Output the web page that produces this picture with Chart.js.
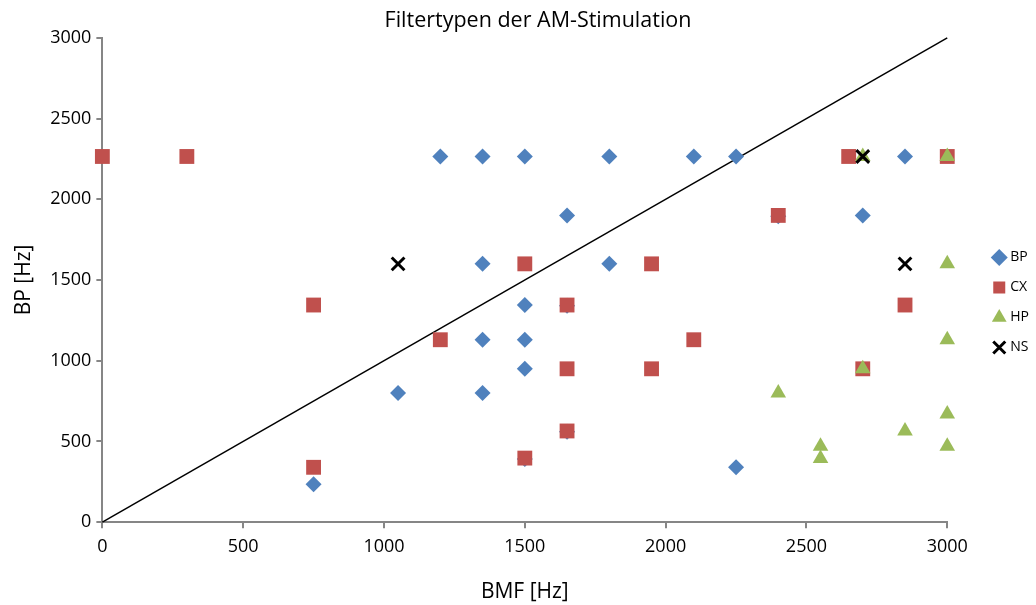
<!DOCTYPE html>
<html>
<head>
<meta charset="utf-8">
<script src="https://cdn.jsdelivr.net/npm/chart.js@4"></script>
<style>
  html, body { margin: 0; padding: 0; background: #ffffff; }
  #wrap { width: 1036px; height: 605px; }
</style>
</head>
<body>
<div id="wrap"><canvas id="c" width="1036" height="605"></canvas></div>
<script>
// ---- data ----
const chartTitle = 'Filtertypen der AM-Stimulation';
const xAxisTitle = 'BMF [Hz]';
const yAxisTitle = 'BP [Hz]';
const seriesNames = ['BP', 'CX', 'HP', 'NS'];

const bpBMF = [1200, 1350, 1500, 1800, 2100, 2250, 2850, 1650, 2700, 1350, 1800, 1500, 1350, 1500, 1500, 1050, 1350, 2250, 750, 1650, 1650, 1500, 2400];
const bpBP  = [2265, 2265, 2265, 2265, 2265, 2265, 2265, 1900, 1900, 1600, 1600, 1345, 1130, 1130, 950, 800, 800, 340, 235, 1340, 560, 392, 1895];

const cxBMF = [0, 300, 2650, 3000, 2400, 1500, 1950, 750, 1650, 2850, 1200, 2100, 1650, 1950, 2700, 1650, 1500, 750];
const cxBP  = [2265, 2265, 2265, 2265, 1900, 1600, 1600, 1345, 1345, 1345, 1130, 1130, 950, 950, 950, 565, 397, 340];

const hpBMF = [2700, 3000, 3000, 3000, 2700, 2400, 3000, 2850, 2550, 3000, 2550];
const hpBP  = [2265, 2265, 1600, 1130, 950, 800, 670, 565, 470, 470, 395];

const nsBMF = [2700, 1050, 2850];
const nsBP  = [2265, 1600, 1600];

const diagBMF = [0, 3000];
const diagBP  = [0, 3000];

const xTicks = [0, 500, 1000, 1500, 2000, 2500, 3000];
const yTicks = [0, 500, 1000, 1500, 2000, 2500, 3000];

// ---- build ----
const pts = (xs, ys) => xs.map((x, i) => ({ x: x, y: ys[i] }));
const FONT = "'Open Sans', 'Liberation Sans', sans-serif";
const axisGray = '#868686';
const LEGEND_RESERVE = 29;   // space kept free at the right for the legend
const LEGEND_SHIFT = 32;     // legend moved back to the right by this much
const LEGEND_SHIFT_Y = -1;
const TITLE_SHIFT = 29;

const boxShift = {
  id: 'boxShift',
  afterLayout(chart) {
    if (chart.legend) {
      chart.legend.left += LEGEND_SHIFT; chart.legend.right += LEGEND_SHIFT;
      chart.legend.top += LEGEND_SHIFT_Y; chart.legend.bottom += LEGEND_SHIFT_Y;
    }
    if (chart.titleBlock) { chart.titleBlock.left += TITLE_SHIFT; chart.titleBlock.right += TITLE_SHIFT; }
  }
};

const chart = new Chart(document.getElementById('c'), {
  type: 'scatter',
  data: {
    datasets: [
      { label: seriesNames[0], data: pts(bpBMF, bpBP), pointStyle: 'rectRot', pointRadius: 8, pointHoverRadius: 8,
        backgroundColor: '#4F81BD', borderColor: '#4F81BD', borderWidth: 0, order: 3, clip: false },
      { label: seriesNames[1], data: pts(cxBMF, cxBP), pointStyle: 'rect', pointRadius: 10.5, pointHoverRadius: 10.5,
        backgroundColor: '#C0504D', borderColor: '#C0504D', borderWidth: 0, order: 2, clip: false },
      { label: seriesNames[2], data: pts(hpBMF, hpBP), pointStyle: 'triangle', pointRadius: 9, pointHoverRadius: 9,
        backgroundColor: '#9BBB59', borderColor: '#9BBB59', borderWidth: 0, order: 1, clip: false },
      { label: seriesNames[3], data: pts(nsBMF, nsBP), pointStyle: 'crossRot', pointRadius: 9, pointHoverRadius: 9,
        backgroundColor: '#000000', borderColor: '#000000', borderWidth: 3, order: 0, clip: false },
      { label: 'diag', type: 'line', data: pts(diagBMF, diagBP), showLine: true, borderColor: '#000000',
        borderWidth: 1.5, pointRadius: 0, fill: false, order: 4, clip: false }
    ]
  },
  plugins: [boxShift],
  options: {
    responsive: false,
    animation: false,
    events: [],
    layout: { padding: { left: 11, right: LEGEND_RESERVE, top: 2, bottom: 0 } },
    plugins: {
      title: { display: true, text: chartTitle, color: '#000', font: { family: FONT, size: 21.5, weight: 'normal' },
               padding: { top: 6, bottom: 4 } },
      tooltip: { enabled: false },
      legend: {
        display: true, position: 'right', align: 'center',
        labels: {
          usePointStyle: true, boxWidth: 8, boxHeight: 12, padding: 16, color: '#000',
          font: { family: FONT, size: 14 },
          generateLabels: (ch) => ch.data.datasets.filter(ds => ds.label !== 'diag').map((ds, i) => ({
            text: ds.label, fillStyle: ds.backgroundColor, strokeStyle: ds.borderColor,
            lineWidth: ds.label === 'NS' ? 3 : 0, pointStyle: ds.pointStyle, hidden: false, datasetIndex: i
          }))
        }
      }
    },
    scales: {
      x: {
        type: 'linear', min: 0, max: 3000,
        afterBuildTicks: (s) => { s.ticks = xTicks.map(v => ({ value: v })); },
        grid: { display: true, drawOnChartArea: false, drawTicks: true, tickLength: 6, color: axisGray, lineWidth: 2 },
        border: { display: true, color: axisGray, width: 2 },
        ticks: { color: '#000', font: { family: FONT, size: 18 }, padding: 8, maxRotation: 0,
                 callback: (v) => String(v) },
        title: { display: true, text: xAxisTitle, color: '#000', font: { family: FONT, size: 21 }, padding: { top: 14, bottom: 0 } }
      },
      y: {
        type: 'linear', min: 0, max: 3000,
        afterBuildTicks: (s) => { s.ticks = yTicks.map(v => ({ value: v })); },
        grid: { display: true, drawOnChartArea: false, drawTicks: true, tickLength: 6, color: axisGray, lineWidth: 2 },
        border: { display: true, color: axisGray, width: 2 },
        ticks: { color: '#000', font: { family: FONT, size: 18 }, padding: 5, callback: (v) => String(v) },
        title: { display: true, text: yAxisTitle, color: '#000', font: { family: FONT, size: 21 }, padding: { top: 0, bottom: 9 } }
      }
    }
  }
});
</script>
</body>
</html>
